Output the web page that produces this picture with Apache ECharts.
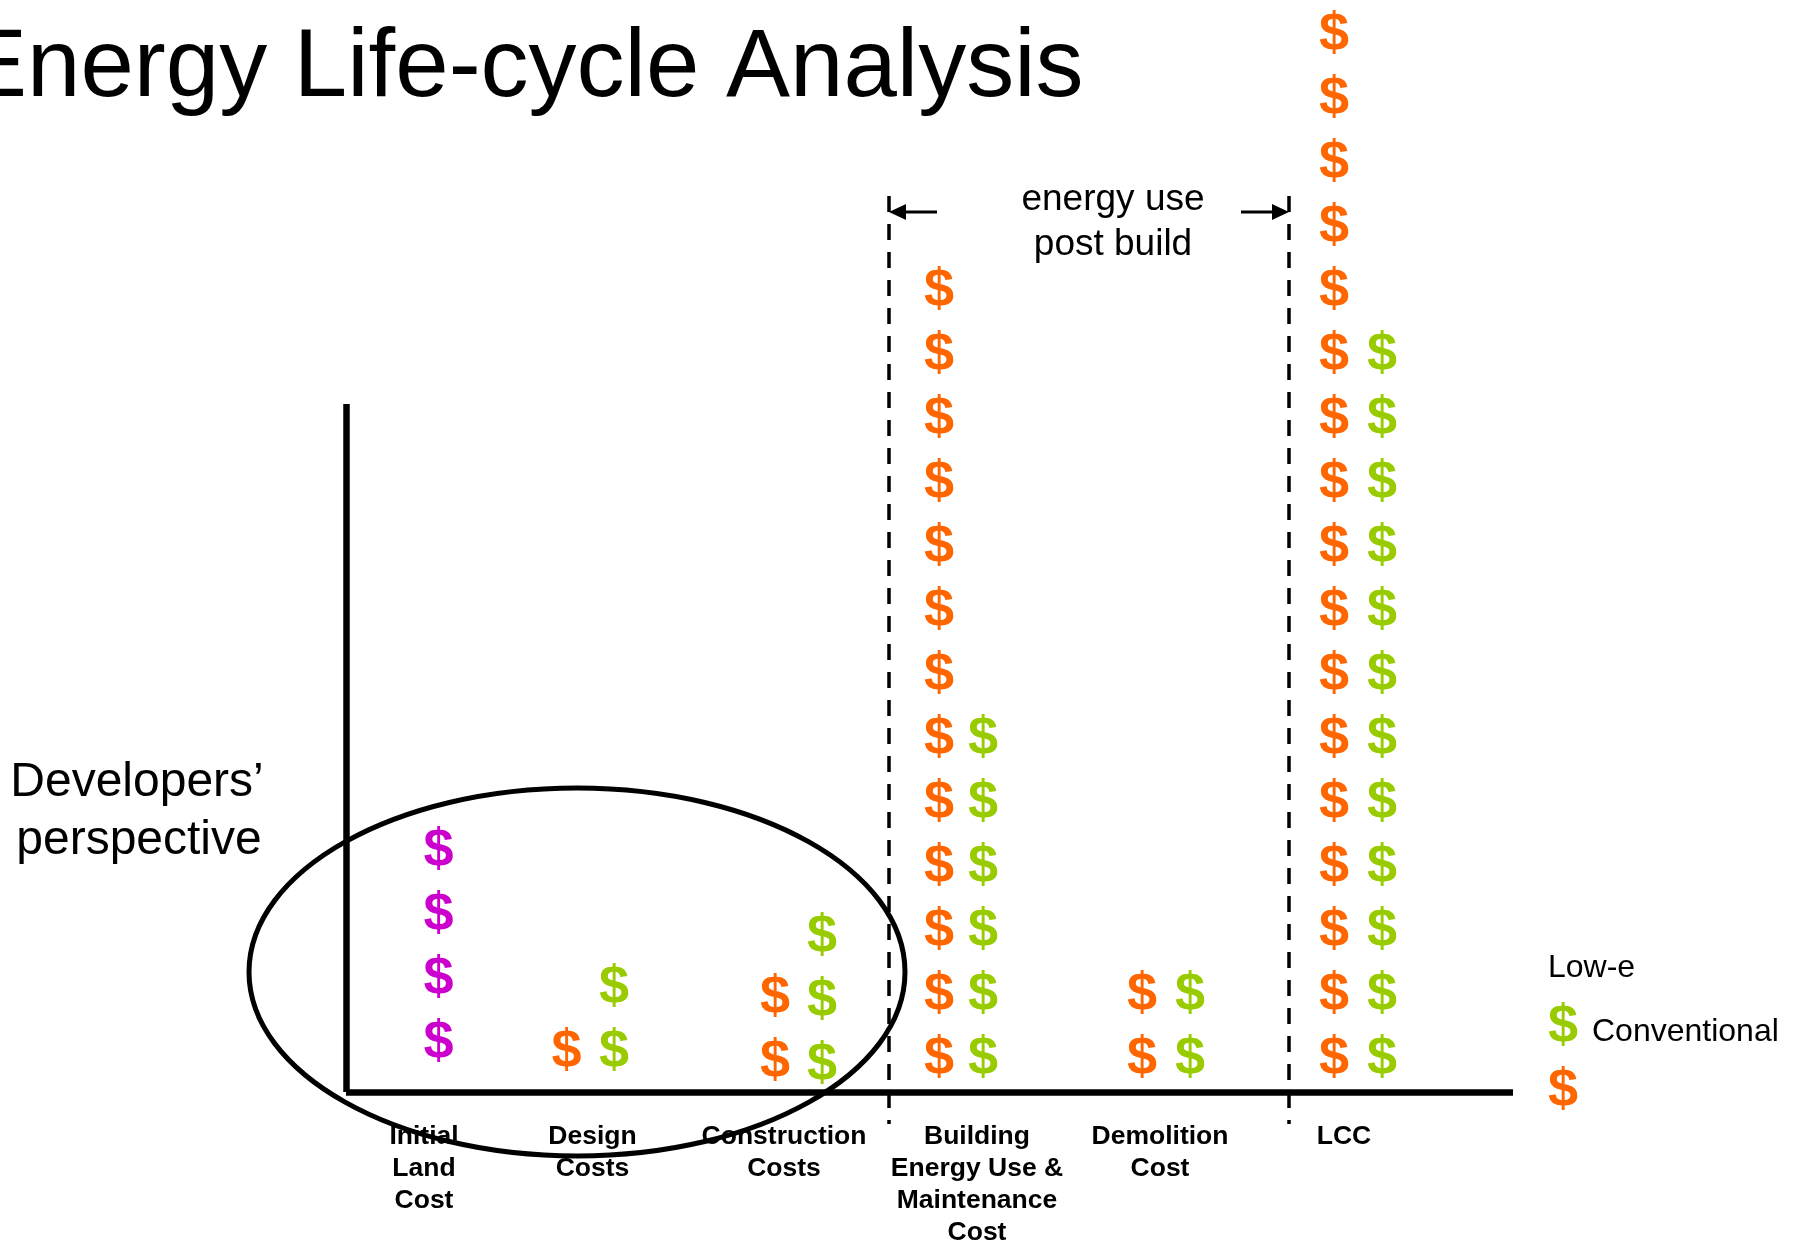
<!DOCTYPE html>
<html>
<head>
<meta charset="utf-8">
<title>Energy Life-cycle Analysis</title>
<style>html,body{margin:0;padding:0;background:#fff;overflow:hidden}#c{width:1798px;height:1244px}</style>
<script src="https://cdn.jsdelivr.net/npm/echarts@6/dist/echarts.min.js"></script>
</head>
<body>
<div id="c"></div>
<script>
// ---- values ----
const categories = ['Initial\nLand\nCost', 'Design\nCosts', 'Construction\nCosts', 'Building\nEnergy Use &\nMaintenance\nCost', 'Demolition\nCost', 'LCC'];
const landCounts = [4, 0, 0, 0, 0, 0];
const conventionalCounts = [0, 1, 2, 13, 2, 17];
const lowECounts = [0, 2, 3, 6, 2, 12];

// ---- layout of the stacks (axis units: x in px from the y axis, y in stack rows above the x axis) ----
const categoryX = [78, 246.5, 438, 631, 814, 998];
const landX = [92.5, 0, 0, 0, 0, 0];
const conventionalX = [0, 220.6, 429, 593, 796, 988];
const lowEX = [0, 268, 476, 637, 844, 1036];
const landBase = [0.8125, 0, 0, 0, 0, 0];
const conventionalBase = [0, 0.672, 0.516, 0.567, 0.567, 0.567];
const lowEBase = [0, 0.672, 0.469, 0.567, 0.567, 0.567];

const ORANGE = '#ff6600', GREEN = '#99cc00', MAGENTA = '#cc00cc';
const FONT = '"Liberation Sans", Arial, sans-serif';
const DOLLAR_SIZE = 54;

function stack(counts, xs, bases) {
  const out = [];
  counts.forEach((n, c) => { for (let i = 0; i < n; i++) out.push([xs[c], bases[c] + i]); });
  return out;
}
function dollarSeries(name, color, data) {
  return {
    name, type: 'scatter', data, symbol: 'circle', symbolSize: 2,
    itemStyle: { color: 'rgba(0,0,0,0)', opacity: 1 }, clip: false, silent: true, z: 3,
    label: { show: true, position: 'inside', formatter: '$', color, opacity: 1,
      textBorderWidth: 0, fontFamily: FONT, fontWeight: 'bold', fontSize: DOLLAR_SIZE, offset: [0, 3] }
  };
}
function txt(text, x, y, size, align, extra) {
  return { type: 'text', x, y, z: 5, silent: true,
    style: Object.assign({ text, fontFamily: FONT, fontSize: size, fill: '#000',
      textAlign: align, textVerticalAlign: 'middle' }, extra || {}) };
}
function dollar(color, x, y) {
  return txt('$', x, y, DOLLAR_SIZE, 'center', { fill: color, fontWeight: 'bold' });
}
function vline(x) {
  return { type: 'line', z: 4, silent: true, shape: { x1: x, y1: 196, x2: x, y2: 1124 },
    style: { stroke: '#000', lineWidth: 3.5, lineDash: [16, 12] } };
}
function arrow(xFrom, xTip, y) {
  const d = xTip > xFrom ? 1 : -1;
  return [
    { type: 'line', z: 4, silent: true, shape: { x1: xFrom, y1: y, x2: xTip - d * 10, y2: y },
      style: { stroke: '#000', lineWidth: 3 } },
    { type: 'polygon', z: 4, silent: true,
      shape: { points: [[xTip, y], [xTip - d * 17, y - 8], [xTip - d * 17, y + 8]] },
      style: { fill: '#000' } }
  ];
}

const chart = echarts.init(document.getElementById('c'), null, { renderer: 'canvas' });
chart.setOption({
  backgroundColor: '#fff',
  animation: false,
  title: { text: 'Energy Life-cycle Analysis', left: -42, top: 17,
    textStyle: { fontFamily: FONT, fontSize: 96, fontWeight: 'normal', color: '#000' } },
  grid: { left: 346, top: 404, width: 1167, height: 688, containLabel: false, outerBoundsMode: 'none' },
  xAxis: {
    type: 'value', min: 0, max: 1167, splitLine: { show: false },
    axisLine: { show: true, onZero: false, lineStyle: { color: '#000', width: 6.5, cap: 'butt' } },
    axisTick: { show: false },
    axisLabel: { show: true, customValues: categoryX, margin: 29, hideOverlap: false,
      formatter: v => categories[categoryX.indexOf(v)] || '',
      fontFamily: FONT, fontWeight: 'bold', fontSize: 26.5, lineHeight: 32, color: '#000',
      align: 'center', verticalAlign: 'top' }
  },
  yAxis: {
    type: 'value', min: 0, max: 10.75, splitLine: { show: false },
    axisLine: { show: true, onZero: false, lineStyle: { color: '#000', width: 6.5, cap: 'butt' } },
    axisTick: { show: false }, axisLabel: { show: false }
  },
  series: [
    dollarSeries('Land', MAGENTA, stack(landCounts, landX, landBase)),
    dollarSeries('Conventional', ORANGE, stack(conventionalCounts, conventionalX, conventionalBase)),
    dollarSeries('Low-e', GREEN, stack(lowECounts, lowEX, lowEBase))
  ],
  graphic: { elements: [
    vline(889), vline(1289),
    ...arrow(937, 889, 212), ...arrow(1241, 1289, 212),
    txt('energy use', 1113, 200, 37, 'center'),
    txt('post build', 1113, 245, 37, 'center'),
    txt('Developers’', 137, 783, 48, 'center'),
    txt('perspective', 139, 841, 48, 'center'),
    txt('Low-e', 1548, 968, 32, 'left'),
    txt('Conventional', 1592, 1032, 32, 'left'),
    dollar(GREEN, 1563, 1027),
    dollar(ORANGE, 1563, 1091),
    { type: 'ellipse', z: 6, silent: true, shape: { cx: 577, cy: 972, rx: 328, ry: 184 },
      style: { fill: 'none', stroke: '#000', lineWidth: 5 } }
  ] }
});
</script>
</body>
</html>
